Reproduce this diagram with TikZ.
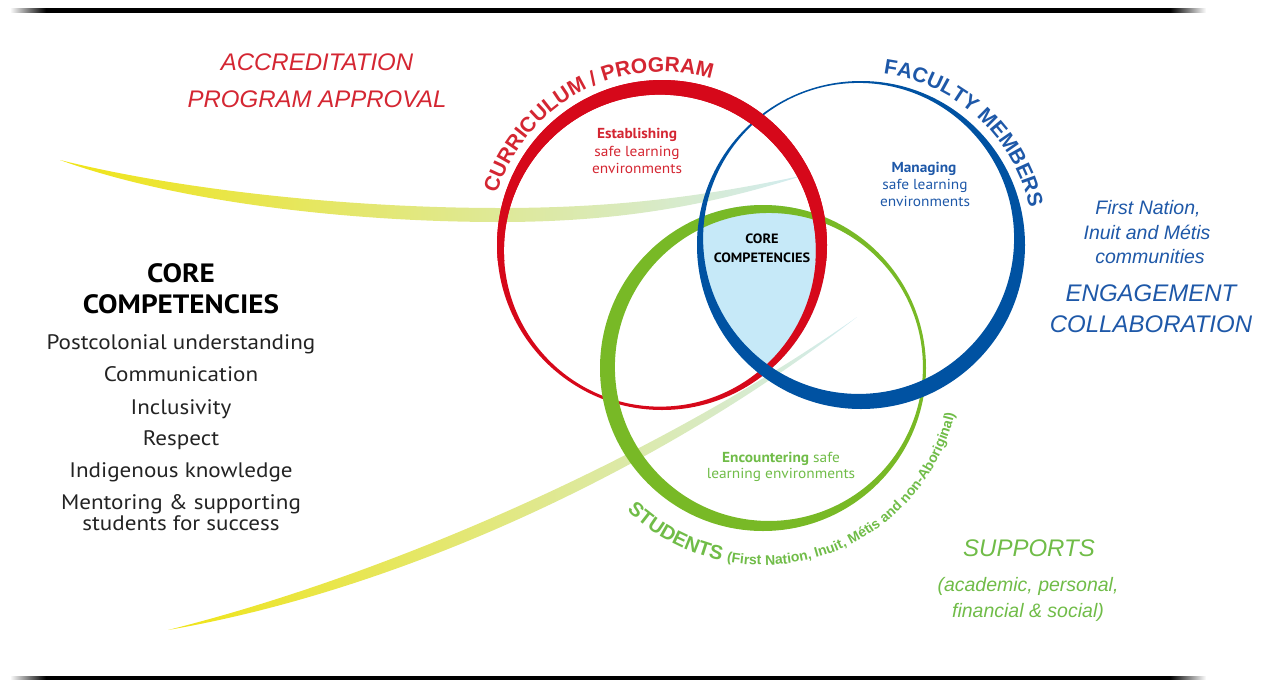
\documentclass[tikz,border=0pt]{standalone}
\usepackage{fontspec}
\setmainfont{PT Sans}[FakeStretch=1.06]
\newfontfamily\listf{PT Sans}[FakeStretch=1.1]
\newfontfamily\arialf{Liberation Sans}
\usetikzlibrary{decorations.text}

\definecolor{ringred}{RGB}{214,8,26}
\definecolor{ringblue}{RGB}{0,82,162}
\definecolor{ringgreen}{RGB}{120,185,38}
\definecolor{txtred}{RGB}{212,38,50}
\definecolor{txtblue}{RGB}{30,88,168}
\definecolor{txtgreen}{RGB}{112,188,72}
\definecolor{corefill}{RGB}{198,233,248}
\definecolor{swyellow}{RGB}{240,228,22}
\definecolor{swgreen}{RGB}{216,234,150}
\definecolor{swblue}{RGB}{210,236,242}
\definecolor{listgray}{RGB}{35,35,35}

\pgfdeclarehorizontalshading{hrule}{100bp}{color(0bp)=(white); color(25bp)=(white); color(26.5bp)=(black); color(73.5bp)=(black); color(75bp)=(white); color(100bp)=(white)}

\tikzset{
  lbl/.style={anchor=base, inner sep=0pt},
  italbig/.style={lbl, font=\arialf\itshape\fontsize{24}{24}\selectfont},
  italsmall/.style={lbl, font=\arialf\itshape\fontsize{19.5}{19.5}\selectfont},
  listtxt/.style={lbl, text=listgray, font=\listf\fontsize{21}{21}\selectfont},
  bigcore/.style={lbl, text=black, font=\listf\bfseries\fontsize{26.5}{26.5}\selectfont},
  innerb/.style={lbl, font=\bfseries\fontsize{14.5}{14.5}\selectfont},
  innerr/.style={lbl, font=\fontsize{14.5}{14.5}\selectfont},
  swoosh/.style={draw=none},
}

\begin{document}
\begin{tikzpicture}[x=1pt,y=1pt]
\useasboundingbox (0,0) rectangle (1267,-681);

% frame lines
\shade[shading=hrule] (10,-8.5) rectangle (1206,-12);
\shade[shading=hrule] (10,-676) rectangle (1206,-679.5);

% centres
\coordinate (cr) at (662,-245);
\coordinate (cb) at (861,-245);
\coordinate (cg) at (763,-368);

% swooshes
\shade[swoosh, left color=swyellow, middle color=swgreen, right color=swblue]
  (60,-160) .. controls (180,-190) and (350,-208) .. (500,-208)
  .. controls (630,-208) and (720,-193) .. (805,-175)
  .. controls (720,-202) and (630,-222) .. (500,-222)
  .. controls (340,-222) and (170,-200) .. (60,-160) -- cycle;
\shade[swoosh, left color=swyellow, middle color=swgreen, right color=swblue]
  (168,-630) .. controls (380,-577) and (650,-462) .. (857,-317)
  .. controls (660,-470) and (400,-590) .. (168,-630) -- cycle;

% core fill
\begin{scope}
  \clip (cr) circle (165pt);
  \clip (cb) circle (164pt);
  \fill[corefill] (cg) circle (163pt);
\end{scope}

% rings
\fill[ringred, even odd rule] (cr) circle (165pt) ([shift={(250:6pt)}]cr) circle (156pt);
\fill[ringgreen, even odd rule] (cg) circle (163pt) ([shift={(10:6pt)}]cg) circle (154pt);
\fill[ringblue, even odd rule] (cb) circle (164pt) ([shift={(110:7pt)}]cb) circle (155.5pt);
\begin{scope}
  \clip (480,-40) rectangle (850,-260);
  \fill[ringred, even odd rule] (cr) circle (165pt) ([shift={(250:6pt)}]cr) circle (156pt);
\end{scope}

% circle labels
\path[decorate, decoration={text along path, text align=center, text color=txtred,
  text={|\arialf\bfseries\fontsize{21}{21}\selectfont|CURRICULUM / PROGRAM}}]
  ([shift={(170:173pt)}]cr) arc[start angle=170, end angle=66, radius=173pt];
\path[decorate, decoration={text along path, text align=center, text color=txtblue,
  text={|\arialf\bfseries\fontsize{21}{21}\selectfont|FACULTY MEMBERS}}]
  ([shift={(95:172.5pt)}]cb) arc[start angle=95, end angle=0, radius=172.5pt];
\path[decorate, decoration={text along path, text align=center, text color=txtgreen,
  text={|\arialf\bfseries\fontsize{20}{20}\selectfont|STUDENTS |\arialf\bfseries\fontsize{14}{14}\selectfont|(First Nation, Inuit, Métis and non-Aboriginal)}}]
  ([shift={(222:197pt)}]cg) arc[start angle=222, end angle=351, radius=197pt];

% inner texts
\node[innerb, text=txtred] (est1) at (637,-138) {Establishing};
\node[innerr, text=txtred] (est2) at (637,-156) {safe learning};
\node[innerr, text=txtred] (est3) at (637,-173) {environments};
\node[innerb, text=txtblue] (man1) at (924,-172) {Managing};
\node[innerr, text=txtblue] (man2) at (925,-189) {safe learning};
\node[innerr, text=txtblue] (man3) at (925,-206) {environments};
\node[lbl, font=\bfseries\fontsize{13.5}{13.5}\selectfont] (cc1) at (762,-243) {CORE};
\node[lbl, font=\bfseries\fontsize{13.5}{13.5}\selectfont] (cc2) at (762,-262) {COMPETENCIES};
\node[lbl, text=txtgreen, font=\fontsize{14.5}{14.5}\selectfont] (enc1) at (781,-462) {\textbf{Encountering} safe};
\node[innerr, text=txtgreen] (enc2) at (781,-478) {learning environments};

% outside texts
\node[italbig, text=txtred] (acc) at (317,-70) {ACCREDITATION};
\node[italbig, text=txtred] (pap) at (317,-107.5) {PROGRAM APPROVAL};

\node[bigcore] (core1) at (181,-282) {CORE};
\node[bigcore] (core2) at (181,-313) {COMPETENCIES};
\node[listtxt] (l1) at (181,-349) {Postcolonial understanding};
\node[listtxt] (l2) at (181,-381) {Communication};
\node[listtxt] (l3) at (181,-414) {Inclusivity};
\node[listtxt] (l4) at (181,-445) {Respect};
\node[listtxt] (l5) at (181,-477) {Indigenous knowledge};
\node[listtxt] (l6) at (181,-509) {Mentoring \& supporting};
\node[listtxt] (l7) at (181,-530) {students for success};

\node[italsmall, text=txtblue] (fn1) at (1148,-214) {First Nation,};
\node[italsmall, text=txtblue] (fn2) at (1147,-239) {Inuit and Métis};
\node[italsmall, text=txtblue] (fn3) at (1150,-263) {communities};
\node[italbig, text=txtblue] (eng) at (1151,-301.5) {ENGAGEMENT};
\node[italbig, text=txtblue] (col) at (1151,-332) {COLLABORATION};

\node[italbig, text=txtgreen] (sup) at (1029,-556) {SUPPORTS};
\node[italsmall, text=txtgreen] (sup2) at (1028,-591) {(academic, personal,};
\node[italsmall, text=txtgreen] (sup3) at (1028,-617) {financial \& social)};
\end{tikzpicture}
\end{document}
